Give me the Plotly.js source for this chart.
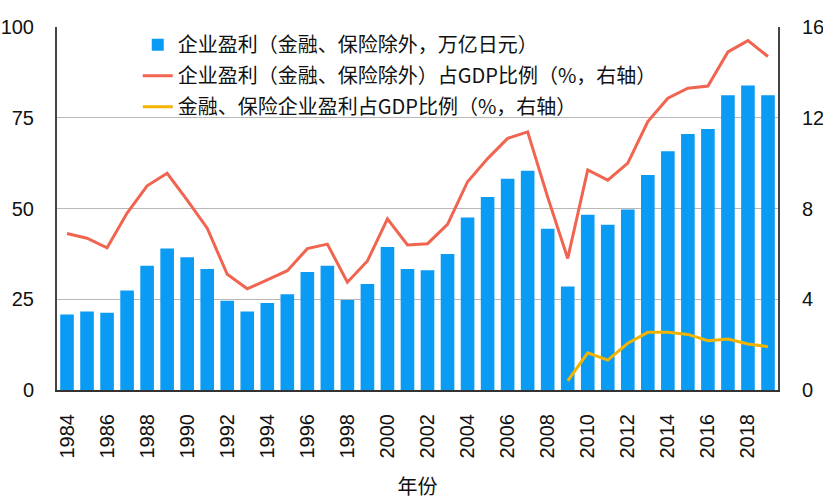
<!DOCTYPE html>
<html>
<head>
<meta charset="utf-8">
<script src="https://cdn.plot.ly/plotly-3.0.1.min.js"></script>
<style>html,body{margin:0;padding:0;background:#fff;}#chart{width:823px;height:501px;}</style>
</head>
<body>
<div id="chart"></div>
<script>
const years = [1984,1985,1986,1987,1988,1989,1990,1991,1992,1993,1994,1995,1996,1997,1998,1999,2000,2001,2002,2003,2004,2005,2006,2007,2008,2009,2010,2011,2012,2013,2014,2015,2016,2017,2018,2019];
const profits = [20.8,21.6,21.3,27.4,34.2,39.0,36.6,33.3,24.6,21.6,24.0,26.4,32.5,34.2,24.8,29.2,39.4,33.3,33.0,37.5,47.5,53.2,58.2,60.4,44.4,28.5,48.3,45.5,49.7,59.2,65.8,70.5,71.9,81.2,83.9,81.2];
const profitShareGDP = [6.9,6.69,6.27,7.8,9.0,9.55,8.37,7.13,5.1,4.46,4.85,5.26,6.23,6.43,4.75,5.69,7.54,6.39,6.45,7.3,9.18,10.2,11.09,11.38,8.5,5.8,9.7,9.25,10.0,11.83,12.86,13.3,13.4,14.9,15.4,14.7];
const finYears = [2009,2010,2011,2012,2013,2014,2015,2016,2017,2018,2019];
const finShareGDP = [0.4,1.64,1.32,2.06,2.54,2.54,2.45,2.17,2.25,2.03,1.91];
const xTicks = [1984,1986,1988,1990,1992,1994,1996,1998,2000,2002,2004,2006,2008,2010,2012,2014,2016,2018];
const leftTicks = [0,25,50,75,100];
const rightTicks = [0,4,8,12,16];
const names = ['企业盈利（金融、保险除外，万亿日元）','企业盈利（金融、保险除外）占GDP比例（%，右轴）','金融、保险企业盈利占GDP比例（%，右轴）'];

const FONT = 'Liberation Sans, Arial, Noto Sans CJK SC, sans-serif';
const traces = [
  {type:'bar', x:years, y:profits, name:names[0], marker:{color:'#0a9bf5'}, width:0.68, legendgroup:'a'},
  {type:'scatter', mode:'lines', x:years, y:profitShareGDP, name:names[1], yaxis:'y2', line:{color:'#f06450', width:3}, legendgroup:'b'},
  {type:'scatter', mode:'lines', x:finYears, y:finShareGDP, name:names[2], yaxis:'y2', line:{color:'#f2b400', width:3}, legendgroup:'c'}
];
const layout = {
  width:823, height:501,
  margin:{l:57, r:45, t:27, b:111},
  paper_bgcolor:'#fff', plot_bgcolor:'#fff',
  font:{family:FONT, color:'#111', size:20},
  showlegend:true,
  legend:{x:0.112, y:1.005, xanchor:'left', yanchor:'top', bgcolor:'rgba(0,0,0,0)', font:{size:20, family:'Noto Sans CJK SC, Liberation Sans, sans-serif', color:'#111'}, traceorder:'grouped', tracegroupgap:2},
  bargap:0.3,
  xaxis:{range:[1983.5,2019.5], tickmode:'array', tickvals:xTicks, ticktext:xTicks.map(String), tickangle:-90, showgrid:false, zeroline:false, showline:true, linecolor:'#333', linewidth:2, ticks:'', ticklabelstandoff:14, tickfont:{size:20},
    title:{text:'年份', font:{size:20, family:'Noto Sans CJK SC, sans-serif'}, standoff:22}},
  yaxis:{range:[0,100], tickmode:'array', tickvals:leftTicks, showgrid:true, gridcolor:'#b8b8b8', gridwidth:1, zeroline:false, showline:true, linecolor:'#444', linewidth:2, ticks:'', ticklabelstandoff:17, tickfont:{size:20}},
  yaxis2:{range:[0,16], overlaying:'y', side:'right', tickmode:'array', tickvals:rightTicks, showgrid:false, zeroline:false, showline:true, linecolor:'#444', linewidth:2, ticks:'', ticklabelstandoff:18, tickfont:{size:20}}
};
Plotly.newPlot('chart', traces, layout, {displayModeBar:false, staticPlot:true});
</script>
</body>
</html>
